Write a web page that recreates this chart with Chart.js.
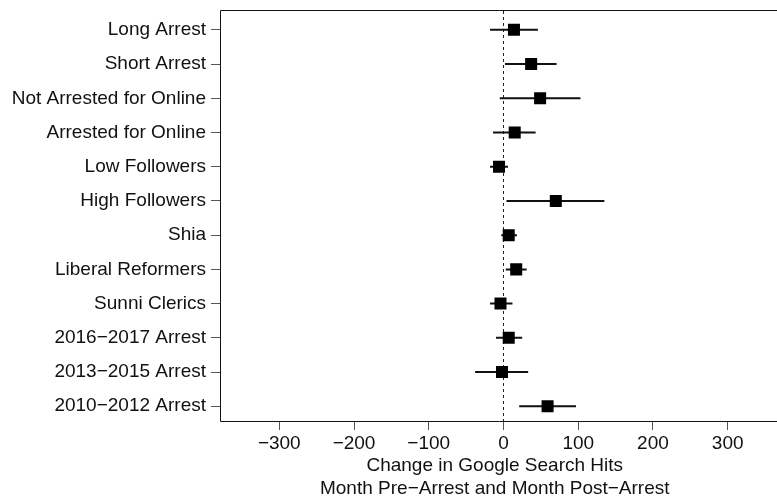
<!DOCTYPE html>
<html>
<head>
<meta charset="utf-8">
<script src="https://cdn.jsdelivr.net/npm/chart.js@4"></script>
<style>
  html, body { margin: 0; padding: 0; background: #ffffff; }
  #wrap { width: 777px; height: 502px; overflow: hidden; }
</style>
</head>
<body>
<div id="wrap"><canvas id="c" width="777" height="502"></canvas></div>
<script>
// ---- data ----
const categories = ['Long Arrest', 'Short Arrest', 'Not Arrested for Online', 'Arrested for Online',
  'Low Followers', 'High Followers', 'Shia', 'Liberal Reformers', 'Sunni Clerics',
  '2016\u22122017 Arrest', '2013\u22122015 Arrest', '2010\u22122012 Arrest'];
const estimates = [14, 37, 49, 15, -6, 70, 7, 17, -4, 7, -2, 59];
const lower     = [-18, 2, -5, -14, -18, 4, -3, 3, -18, -10, -38, 21];
const upper     = [46, 71, 103, 43, 6, 135, 18, 31, 12, 25, 33, 97];
const xTicks = [-300, -200, -100, 0, 100, 200, 300];
const xTitle = ['Change in Google Search Hits', 'Month Pre\u2212Arrest and Month Post\u2212Arrest'];
const xRange = [-378, 354.6];
const yRange = [0.54, 12.58];

// ---- derived structures ----
const n = categories.length;
const rowPos = categories.map((_, i) => n - i);           // top row highest
const pointData = estimates.map((v, i) => ({x: v, y: rowPos[i]}));
const barData = [];
lower.forEach((lo, i) => {
  barData.push({x: lo, y: rowPos[i]});
  barData.push({x: upper[i], y: rowPos[i]});
  barData.push({x: null, y: null});
});
const zeroLine = [{x: 0, y: yRange[0]}, {x: 0, y: yRange[1]}];

const fmt = v => (v < 0 ? '\u2212' + Math.abs(v) : String(v));

Chart.defaults.font.family = "'Liberation Sans', Arial, sans-serif";
Chart.defaults.font.size = 19;
Chart.defaults.color = '#111111';

const noPad = s => { s.paddingTop = 0; s.paddingBottom = 0; s.paddingLeft = 0; s.paddingRight = 0; };

// frame: top, left and bottom sides (right side lies beyond the canvas edge)
const framePlugin = {
  id: 'frame',
  beforeDatasetsDraw(chart) {
    const a = chart.chartArea, ctx = chart.ctx;
    const L = Math.round(a.left) - 0.5, T = Math.round(a.top) + 0.5, B = Math.round(a.bottom) - 0.5;
    ctx.save();
    ctx.strokeStyle = '#111111';
    ctx.lineWidth = 1;
    ctx.beginPath();
    ctx.moveTo(chart.width + 2, T); ctx.lineTo(L, T); ctx.lineTo(L, B); ctx.lineTo(chart.width + 2, B);
    ctx.stroke();
    ctx.restore();
  }
};

new Chart(document.getElementById('c'), {
  type: 'scatter',
  data: {
    datasets: [
      { // point estimates
        data: pointData, order: 0,
        pointStyle: 'rect', pointRadius: 8.5, pointHoverRadius: 8.5,
        backgroundColor: '#000000', borderColor: '#000000', borderWidth: 0,
        showLine: false
      },
      { // confidence intervals
        data: barData, order: 1, showLine: true, spanGaps: false,
        borderColor: '#111111', borderWidth: 2, pointRadius: 0, pointHoverRadius: 0
      },
      { // zero reference
        data: zeroLine, order: 2, showLine: true,
        borderColor: '#222222', borderWidth: 1, borderDash: [3, 3], pointRadius: 0
      }
    ]
  },
  options: {
    responsive: false,
    animation: false,
    events: [],
    layout: { padding: { top: 10, left: 0, right: 0, bottom: 0 } },
    plugins: { legend: { display: false }, tooltip: { enabled: false } },
    scales: {
      x: {
        type: 'linear', position: 'bottom',
        min: xRange[0], max: xRange[1],
        afterBuildTicks: s => { s.ticks = xTicks.map(v => ({value: v})); },
        afterFit: s => { s.height = 80; noPad(s); },
        border: { display: false },
        grid: { drawOnChartArea: false, drawTicks: true, tickLength: 8, color: '#555555', lineWidth: 1 },
        ticks: { padding: 2, maxRotation: 0, autoSkip: false, callback: v => fmt(v), color: '#111111' },
        title: {
          display: true, text: xTitle, color: '#111111',
          font: { size: 19, lineHeight: '23px' },
          padding: { top: 0, bottom: 1.5 }
        }
      },
      y: {
        type: 'linear', position: 'left',
        min: yRange[0], max: yRange[1],
        afterBuildTicks: s => { s.ticks = rowPos.map(v => ({value: v})); },
        afterFit: s => { s.width = 221; noPad(s); },
        border: { display: false },
        grid: { drawOnChartArea: false, drawTicks: true, tickLength: 10, color: '#555555', lineWidth: 1 },
        ticks: { padding: 5, autoSkip: false, callback: v => categories[n - v], color: '#111111' }
      }
    }
  },
  plugins: [framePlugin]
});
</script>
</body>
</html>
